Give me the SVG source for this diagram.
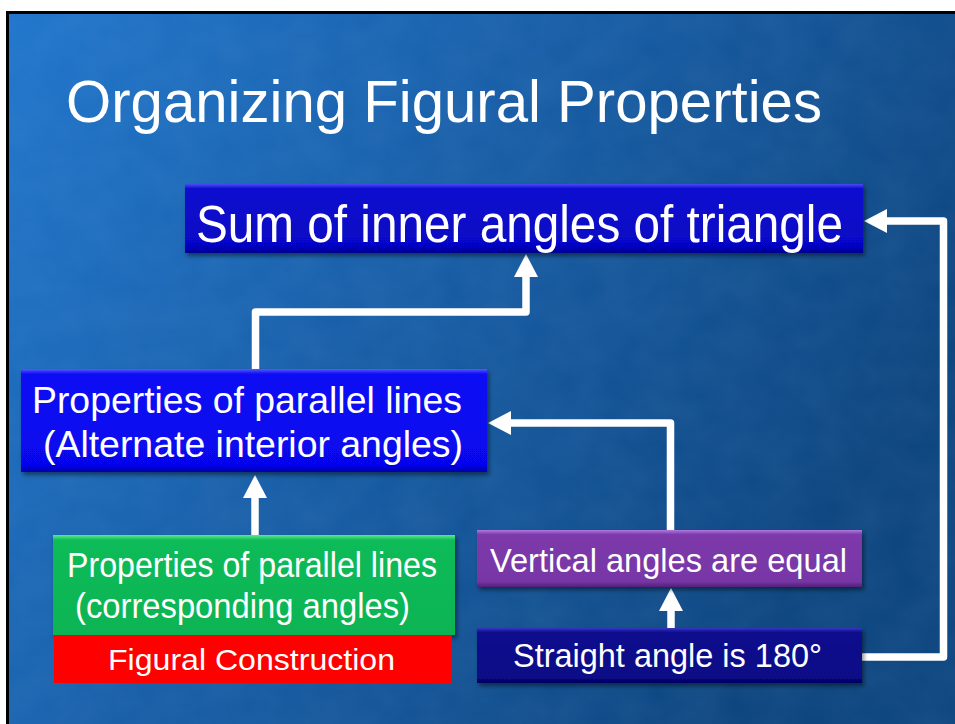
<svg xmlns="http://www.w3.org/2000/svg" width="955" height="724" viewBox="0 0 955 724">
<defs>
<linearGradient id="bg" x1="0" y1="0" x2="1" y2="0.45">
<stop offset="0" stop-color="#2176cc"/>
<stop offset="0.45" stop-color="#1960aa"/>
<stop offset="1" stop-color="#0e4680"/>
</linearGradient>
<linearGradient id="gTop" x1="0" y1="0" x2="0" y2="1">
<stop offset="0" stop-color="#4a4af2"/><stop offset="0.07" stop-color="#0c0cd0"/><stop offset="0.9" stop-color="#0606c4"/><stop offset="1" stop-color="#00008c"/>
</linearGradient>
<linearGradient id="gBlue" x1="0" y1="0" x2="0" y2="1">
<stop offset="0" stop-color="#5a5aff"/><stop offset="0.05" stop-color="#0b0bf4"/><stop offset="0.93" stop-color="#0606ee"/><stop offset="1" stop-color="#0000a8"/>
</linearGradient>
<linearGradient id="gGreen" x1="0" y1="0" x2="0" y2="1">
<stop offset="0" stop-color="#5ee88e"/><stop offset="0.05" stop-color="#10bb58"/><stop offset="1" stop-color="#0cb454"/>
</linearGradient>
<linearGradient id="gPurple" x1="0" y1="0" x2="0" y2="1">
<stop offset="0" stop-color="#b07ae0"/><stop offset="0.08" stop-color="#7c3aaa"/><stop offset="0.9" stop-color="#7836a6"/><stop offset="1" stop-color="#52207a"/>
</linearGradient>
<linearGradient id="gNavy" x1="0" y1="0" x2="0" y2="1">
<stop offset="0" stop-color="#3838c0"/><stop offset="0.08" stop-color="#0c0c8e"/><stop offset="0.9" stop-color="#0a0a88"/><stop offset="1" stop-color="#000060"/>
</linearGradient>
<filter id="tex" x="0" y="0" width="100%" height="100%">
<feTurbulence type="fractalNoise" baseFrequency="0.025 0.03" numOctaves="3" seed="4"/>
<feColorMatrix type="matrix" values="0 0 0 0 0.6  0 0 0 0 0.8  0 0 0 0 1  0 0 0 0.35 -0.05"/>
</filter>
<filter id="sh" x="-5%" y="-10%" width="112%" height="130%">
<feDropShadow dx="2" dy="3" stdDeviation="2" flood-color="#000" flood-opacity="0.45"/>
</filter>
<marker id="ah" viewBox="0 0 23 24" refX="0" refY="12" markerWidth="23" markerHeight="24" markerUnits="userSpaceOnUse" orient="auto">
<path d="M0,0 L23,12 L0,24 z" fill="#ffffff"/>
</marker>
<style>
.t{font-family:"Liberation Sans",Arial,sans-serif;fill:#ffffff}
.c{fill:none;stroke:#ffffff;stroke-width:7.5;stroke-linejoin:round;marker-end:url(#ah)}
</style>
</defs>
<rect x="0" y="0" width="955" height="724" fill="#ffffff"/>
<rect x="6" y="11" width="949" height="713" fill="#000000"/>
<rect x="9" y="14" width="946" height="710" fill="url(#bg)"/>
<rect x="9" y="14" width="946" height="710" filter="url(#tex)" opacity="0.2"/>
<text class="t" x="66" y="122" font-size="60" textLength="756" lengthAdjust="spacingAndGlyphs">Organizing Figural Properties</text>
<g id="connectors">
<path class="c" d="M255,536 V498"/>
<path class="c" d="M255.5,369 V312 H526 V277"/>
<path class="c" d="M671,628 V611"/>
<path class="c" d="M670.5,530 V423 H511"/>
<path class="c" d="M862,657 H943.5 V221 H887"/>
</g>
<g id="sum">
<rect x="185" y="184" width="678" height="69" fill="url(#gTop)" filter="url(#sh)"/>
<text class="t" x="196" y="242" font-size="51" textLength="647" lengthAdjust="spacingAndGlyphs">Sum of inner angles of triangle</text>
</g>
<g id="alternate">
<rect x="21" y="369" width="466" height="103" fill="url(#gBlue)" filter="url(#sh)"/>
<text class="t" x="32" y="413" font-size="37" textLength="430" lengthAdjust="spacingAndGlyphs">Properties of parallel lines</text>
<text class="t" x="43" y="457" font-size="37" textLength="420" lengthAdjust="spacingAndGlyphs">(Alternate interior angles)</text>
</g>
<g id="corresponding">
<rect x="53" y="535" width="402" height="100" fill="url(#gGreen)" filter="url(#sh)"/>
<text class="t" x="67" y="577" font-size="35" textLength="370" lengthAdjust="spacingAndGlyphs">Properties of parallel lines</text>
<text class="t" x="75" y="618" font-size="35" textLength="335" lengthAdjust="spacingAndGlyphs">(corresponding angles)</text>
</g>
<g id="construction">
<rect x="54" y="635" width="398" height="48" fill="#ff0000"/>
<text class="t" x="108" y="670" font-size="30" textLength="287" lengthAdjust="spacingAndGlyphs">Figural Construction</text>
</g>
<g id="vertical">
<rect x="477" y="530" width="385" height="57" fill="url(#gPurple)" filter="url(#sh)"/>
<text class="t" x="490" y="572" font-size="34" textLength="357" lengthAdjust="spacingAndGlyphs">Vertical angles are equal</text>
</g>
<g id="straight">
<rect x="477" y="628" width="385" height="55" fill="url(#gNavy)" filter="url(#sh)"/>
<text class="t" x="513" y="667" font-size="34" textLength="309" lengthAdjust="spacingAndGlyphs">Straight angle is 180°</text>
</g>
</svg>
